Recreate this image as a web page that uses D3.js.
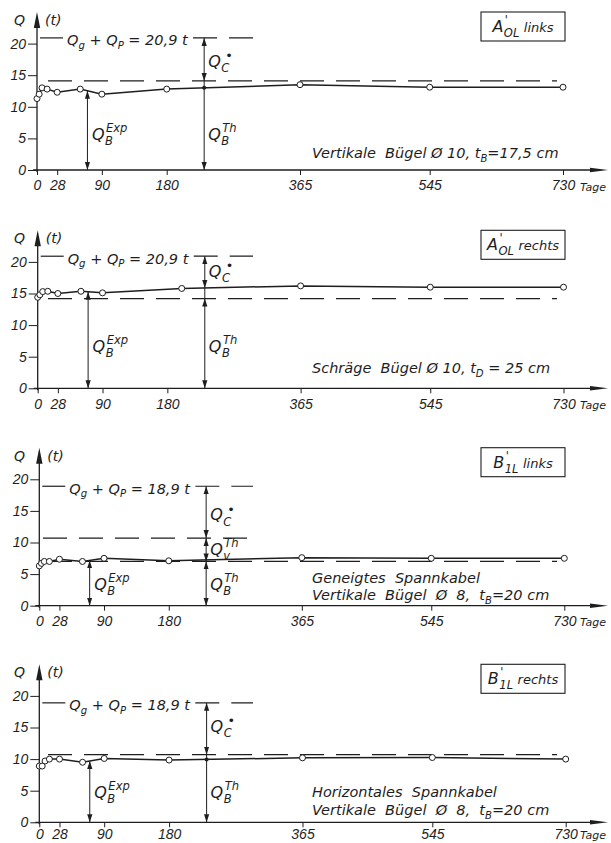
<!DOCTYPE html>
<html>
<head>
<meta charset="utf-8">
<script src="https://cdn.jsdelivr.net/npm/d3@7"></script>
<style>
  html, body { margin: 0; padding: 0; background: #ffffff; }
  svg { display: block; font-family: "DejaVu Sans", sans-serif; font-style: oblique; }
  text { fill: #1e1e1e; white-space: pre; }
</style>
</head>
<body>
<svg id="chart" width="611" height="843"></svg>
<script>
// Shear force Q (t) carried by the stirrups over time (days) for four beam ends.
const daysA1 = [0, 3, 7, 14, 28, 60, 90, 180, 365, 545, 730];
const qA1    = [11.3, 12.0, 13.0, 12.8, 12.3, 12.8, 12.0, 12.8, 13.5, 13.1, 13.1];
const daysA2 = [0, 3, 7, 14, 28, 60, 90, 200, 365, 545, 730];
const qA2    = [14.4, 14.8, 15.3, 15.35, 15.0, 15.35, 15.1, 15.8, 16.2, 16.0, 16.0];
const daysB1 = [0, 3, 7, 14, 28, 60, 90, 180, 365, 545, 730];
const qB1    = [6.3, 6.7, 7.0, 7.0, 7.35, 7.0, 7.5, 7.1, 7.6, 7.5, 7.5];
const daysB2 = [0, 4, 8, 14, 28, 60, 90, 180, 365, 545, 730];
const qB2    = [8.9, 8.9, 9.7, 10.0, 10.0, 9.5, 10.1, 9.85, 10.2, 10.25, 10.0];

// Total load Qg + QP and theoretical levels (QB^Th, QB^Th + Qv^Th)
const totalLoad = [20.9, 20.9, 18.9, 18.9];
const theoryA1 = [14.1];
const theoryA2 = [14.2];
const theoryB1 = [10.7, 7.0];
const theoryB2 = [10.7];

const xTickValues = [0, 28, 90, 180, 365, 545, 730];
const yTickValues = [0, 5, 10, 15, 20];
const expDay = 70;   // where QB^Exp is dimensioned
const thDay = 232;   // where the theoretical parts are dimensioned

const ink = "#1e1e1e";
const svg = d3.select("#chart");

svg.append("rect").attr("width", 611).attr("height", 843).attr("fill", "#ffffff");

const defs = svg.append("defs");
defs.append("marker")
  .attr("id", "head").attr("viewBox", "0 0 8 6")
  .attr("refX", 8).attr("refY", 3)
  .attr("markerWidth", 8).attr("markerHeight", 6)
  .attr("markerUnits", "userSpaceOnUse")
  .attr("orient", "auto-start-reverse")
  .append("path").attr("d", "M0,0.4L8,3L0,5.6Z").attr("fill", ink);

// Panel frames: baseline of Q=0, x-range of the time axis, text placement
const panels = [
  { days: daysA1, q: qA1, total: totalLoad[0], theory: theoryA1,
    zero: 170, x0: 37, x1: 563, pad: 5.5,
    name: ["A", "OL", "links"],
    desc: [[["Vertikale  Bügel Ø 10, t", ""], ["B", "sub"], ["=17,5 cm", ""]]],
    descY: [158],
    levelSpan: [[48, 557]],
    segs: [["total", 0, "both", ["Q", "C", "•"], 16.3],
           [0, "line", "none"],
           ["line", "zero", "end", ["Q", "B", "Th"], 4.75]],
    dot: true, expLabel: 4.75 },
  { days: daysA2, q: qA2, total: totalLoad[1], theory: theoryA2,
    zero: 388.3, x0: 37.7, x1: 563.5, pad: 5.5,
    name: ["A", "OL", "rechts"],
    desc: [[["Schräge  Bügel Ø 10, t", ""], ["D", "sub"], [" = 25 cm", ""]]],
    descY: [373],
    levelSpan: [[48, 557]],
    segs: [["total", "line", "both", ["Q", "C", "•"], 17.6],
           ["line", 0, "none"],
           [0, "zero", "both", ["Q", "B", "Th"], 5.7]],
    dot: false, expLabel: 5.7 },
  { days: daysB1, q: qB1, total: totalLoad[2], theory: theoryB1,
    zero: 605.7, x0: 39.3, x1: 564.3, pad: 5.5,
    name: ["B", "1L", "links"],
    desc: [[["Geneigtes  Spannkabel", ""]],
           [["Vertikale  Bügel  Ø  8,  t", ""], ["B", "sub"], ["=20 cm", ""]]],
    descY: [583, 600],
    levelSpan: [[43, 255], [48, 557]],
    segs: [["total", 0, "both", ["Q", "C", "•"], 13.5],
           [0, 1, "both", ["Q", "v", "Th"], 8.1],
           [1, "zero", "both", ["Q", "B", "Th"], 2.5]],
    dot: false, expLabel: 2.5 },
  { days: daysB2, q: qB2, total: totalLoad[3], theory: theoryB2,
    zero: 822.3, x0: 39.3, x1: 565.7, pad: 1.8,
    name: ["B", "1L", "rechts"],
    desc: [[["Horizontales  Spannkabel", ""]],
           [["Vertikale  Bügel  Ø  8,  t", ""], ["B", "sub"], ["=20 cm", ""]]],
    descY: [797, 815],
    levelSpan: [[48, 557]],
    segs: [["total", 0, "both", ["Q", "C", "•"], 14.3],
           [0, "line", "none"],
           ["line", "zero", "end", ["Q", "B", "Th"], 3.8]],
    dot: true, expLabel: 3.8 }
];

const unit = 6.32; // px per tonne

// Letter with stacked subscript and superscript; returns its width
function symbol(g, x, y, parts, fs) {
  const [main, sub, sup] = parts;
  const t = g.append("text").attr("x", x).attr("y", y).attr("font-size", fs).text(main);
  const w = t.node().getComputedTextLength();
  let w2 = 0, subW = 0;
  if (sub) {
    const s = g.append("text").attr("x", x + w + 0.5).attr("y", y + fs * 0.32)
      .attr("font-size", fs * 0.72).text(sub);
    subW = s.node().getComputedTextLength();
    w2 = Math.max(w2, subW);
  }
  if (sup) {
    const isDot = sup === "•";
    const sx = isDot ? x + w + subW * 0.55 : x + w + 1.5;
    const s = g.append("text").attr("x", sx).attr("y", y - fs * (isDot ? 0.42 : 0.5))
      .attr("font-size", fs * (isDot ? 0.8 : 0.72)).text(sup);
    w2 = Math.max(w2, (isDot ? subW * 0.55 : 1.5) + s.node().getComputedTextLength());
  }
  return w + w2;
}

// Text run with subscript pieces
function richText(g, x, y, parts, fs) {
  const t = g.append("text").attr("x", x).attr("y", y).attr("font-size", fs);
  let low = false;
  parts.forEach(([s, kind]) => {
    const ts = t.append("tspan").text(s);
    if (kind === "sub") {
      ts.attr("dy", fs * 0.25).attr("font-size", fs * 0.7);
      low = true;
    } else {
      if (low) { ts.attr("dy", -fs * 0.25); low = false; }
      ts.attr("font-size", fs);
    }
  });
  return t;
}

const comma = v => String(v).replace(".", ",");

panels.forEach(p => {
  const g = svg.append("g");
  const x = d3.scaleLinear().domain([0, 730]).range([p.x0, p.x1]);
  const y = d3.scaleLinear().domain([0, 20]).range([p.zero, p.zero - 20 * unit]);
  const lineAt = d3.scaleLinear().domain(p.days).range(p.q);

  // x axis
  const xa = g.append("g").attr("transform", `translate(0,${p.zero})`)
    .call(d3.axisBottom(x).tickValues(xTickValues).tickSize(5).tickPadding(p.pad)
      .tickFormat(d3.format("d")));
  xa.select(".domain").remove();
  xa.selectAll(".tick line").attr("stroke", ink).attr("stroke-width", 1);
  xa.selectAll(".tick text").attr("font-size", 14).attr("font-family", null).attr("fill", ink);
  g.append("line").attr("x1", p.x0 - 4).attr("x2", 592).attr("y1", p.zero).attr("y2", p.zero)
    .attr("stroke", ink).attr("stroke-width", 1.3);
  g.append("path")
    .attr("d", `M590,${p.zero - 2.3}L608,${p.zero}L590,${p.zero + 2.3}Z`)
    .attr("fill", ink);
  g.append("text").attr("x", 580).attr("y", p.zero + 15 + p.pad).attr("font-size", 11).text("Tage");

  // y axis
  const ya = g.append("g").attr("transform", `translate(${p.x0},0)`)
    .call(d3.axisLeft(y).tickValues(yTickValues).tickSize(9).tickPadding(2)
      .tickFormat(d3.format("d")));
  ya.select(".domain").remove();
  ya.selectAll(".tick line").attr("stroke", ink).attr("stroke-width", 1);
  ya.selectAll(".tick text").attr("font-size", 14).attr("font-family", null).attr("fill", ink);
  g.append("line").attr("x1", p.x0).attr("x2", p.x0).attr("y1", p.zero + 2).attr("y2", p.zero - 145)
    .attr("stroke", ink).attr("stroke-width", 1.3);
  g.append("path")
    .attr("d", `M${p.x0 - 3.2},${p.zero - 142}L${p.x0},${p.zero - 158}L${p.x0 + 3.2},${p.zero - 142}Z`)
    .attr("fill", ink);
  g.append("text").attr("x", 14).attr("y", p.zero - 145).attr("font-size", 14).text("Q");
  g.append("text").attr("x", p.x0 + 8).attr("y", p.zero - 145).attr("font-size", 14).text("(t)");

  // total load line with its label
  const yt = y(p.total);
  const lbl = richText(g, p.x0 + 30, yt + 7.5,
    [["Q", ""], ["g", "sub"], [" + Q", ""], ["P", "sub"], [` = ${comma(p.total)} t`, ""]], 14.5);
  const bb = lbl.node().getBBox();
  const dash = "24,12";
  g.append("line").attr("x1", p.x0 + 3).attr("x2", bb.x - 4).attr("y1", yt).attr("y2", yt)
    .attr("stroke", ink).attr("stroke-width", 1.2);
  g.append("line").attr("x1", bb.x + bb.width + 4).attr("x2", 253).attr("y1", yt).attr("y2", yt)
    .attr("stroke", ink).attr("stroke-width", 1.2).attr("stroke-dasharray", dash);

  // theoretical levels
  p.theory.forEach((v, i) => {
    const span = p.levelSpan[i] || p.levelSpan[p.levelSpan.length - 1];
    g.append("line").attr("x1", span[0]).attr("x2", span[1]).attr("y1", y(v)).attr("y2", y(v))
      .attr("stroke", ink).attr("stroke-width", 1.2).attr("stroke-dasharray", dash);
  });

  // measured stirrup force
  const pts = p.days.map((d, i) => [d, p.q[i]]);
  g.append("path").datum(pts)
    .attr("d", d3.line().x(d => x(d[0])).y(d => y(d[1])))
    .attr("fill", "none").attr("stroke", ink).attr("stroke-width", 1.5);

  // dimension arrows
  const val = k => k === "total" ? p.total : k === "line" ? lineAt(thDay) : k === "zero" ? 0 : p.theory[k];
  const ax = x(thDay);
  p.segs.forEach(s => {
    const [a, b, heads, label, at] = s;
    const ln = g.append("line").attr("x1", ax).attr("x2", ax)
      .attr("y1", y(val(a))).attr("y2", y(val(b)))
      .attr("stroke", ink).attr("stroke-width", 1);
    if (heads === "both") ln.attr("marker-start", "url(#head)").attr("marker-end", "url(#head)");
    if (heads === "end") ln.attr("marker-end", "url(#head)");
    if (label) symbol(g, ax + 4, y(at), label, 16);
  });
  if (p.dot) {
    g.append("circle").attr("cx", ax).attr("cy", y(lineAt(thDay))).attr("r", 2).attr("fill", ink);
  }
  const ex = x(expDay);
  g.append("line").attr("x1", ex).attr("x2", ex)
    .attr("y1", y(lineAt(expDay))).attr("y2", y(0))
    .attr("stroke", ink).attr("stroke-width", 1)
    .attr("marker-start", "url(#head)").attr("marker-end", "url(#head)");
  symbol(g, ex + 4.5, y(p.expLabel), ["Q", "B", "Exp"], 16);

  // measuring points
  g.selectAll("circle.pt").data(pts).join("circle").attr("class", "pt")
    .attr("cx", d => x(d[0])).attr("cy", d => y(d[1])).attr("r", 3)
    .attr("fill", "#ffffff").attr("stroke", ink).attr("stroke-width", 1);

  // beam label box
  const bx = 481, by = p.zero - 158, bw = 84, bh = 29;
  g.append("rect").attr("x", bx).attr("y", by).attr("width", bw).attr("height", bh)
    .attr("fill", "none").attr("stroke", ink).attr("stroke-width", 1.1);
  const nameG = g.append("g");
  const w1 = symbol(nameG, 0, by + 20, [p.name[0], p.name[1], "'"], 16);
  const tail = nameG.append("text").attr("x", w1 + 5).attr("y", by + 20).attr("font-size", 13)
    .text(p.name[2]);
  const total = w1 + 5 + tail.node().getComputedTextLength();
  nameG.attr("transform", `translate(${bx + (bw - total) / 2},0)`);

  // description
  p.desc.forEach((parts, i) => richText(g, 312, p.descY[i], parts, 14.5));
});
</script>
</body>
</html>
